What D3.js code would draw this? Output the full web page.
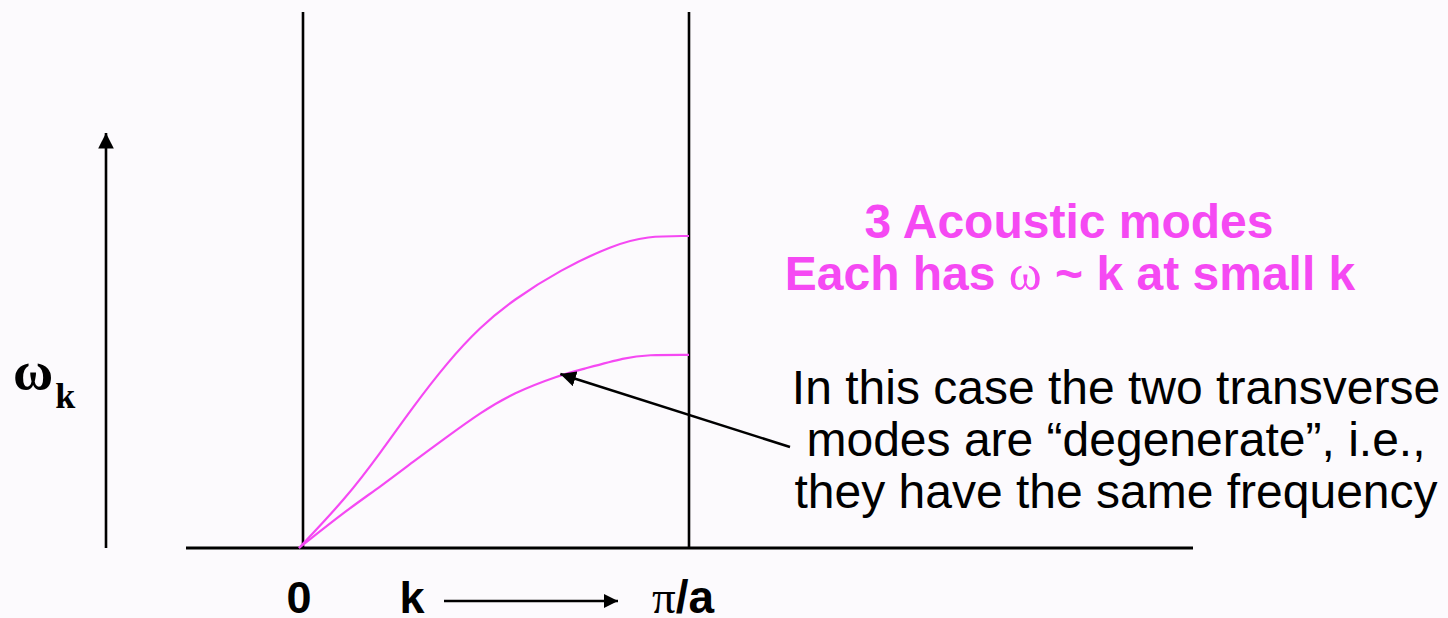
<!DOCTYPE html>
<html lang="en">
  <head>
    <meta charset="utf-8">
    <title>Acoustic modes</title>
    <style>
      body { margin: 0; background: #fcfafd; }
      svg { display: block; }
      .sans { font-family: "Liberation Sans", Arial, sans-serif; }
      .serif { font-family: "Liberation Serif", "Times New Roman", serif; }
    </style>
    <script src="https://d3js.org/d3.v7.min.js"></script>
  </head>
  <body>
    <div class="viz"></div>
    <script>
    // k in units of pi/a, omega scaled so the upper branch tops out at 1
    const kUpper = [0, 0.123, 0.208, 0.292, 0.379, 0.464, 0.549, 0.669, 0.805, 0.892, 1.0]
    const wUpper = [0, 0.163, 0.304, 0.452, 0.593, 0.708, 0.795, 0.891, 0.971, 1.0, 1.0]
    const kLower = [0, 0.123, 0.208, 0.292, 0.379, 0.464, 0.549, 0.669, 0.721, 0.841, 0.892, 1.0]
    const wLower = [0, 0.122, 0.196, 0.276, 0.356, 0.433, 0.497, 0.554, 0.571, 0.612, 0.619, 0.619]
    const pointedK = 0.67   // where the callout arrow hits the transverse branch

    const titleLines = ["3 Acoustic modes"]
    const noteLines = ["In this case the two transverse", "modes are \u201cdegenerate\u201d, i.e.,", "they have the same frequency"]

    const width = 1448, height = 618
    const magenta = "#f549f3"

    const svg = d3.select(".viz")
      .append("svg")
      .attr("width", width)
      .attr("height", height)
      .style("background-color", "#fcfafd")

    const x = d3.scaleLinear().domain([0, 1]).range([299, 689])
    const y = d3.scaleLinear().domain([0, 1]).range([548, 236])

    const defs = svg.append("defs")
    defs.append("marker")
      .attr("id", "head")
      .attr("viewBox", "0 0 10 10")
      .attr("refX", 10).attr("refY", 5)
      .attr("markerWidth", 6).attr("markerHeight", 6)
      .attr("markerUnits", "strokeWidth")
      .attr("orient", "auto")
      .append("path")
      .attr("d", "M0,0L10,5L0,10z")
      .attr("fill", "#000")

    // frame: baseline and the two vertical lines at 0 and pi/a
    svg.append("line")
      .attr("x1", 186).attr("x2", 1193)
      .attr("y1", y(0)).attr("y2", y(0))
      .attr("stroke", "#000").attr("stroke-width", 2.8)

    svg.selectAll(".vline")
      .data([0, 1])
      .join("line")
      .attr("class", "vline")
      .attr("x1", d => x(d) + (d === 0 ? 4 : 0))
      .attr("x2", d => x(d) + (d === 0 ? 4 : 0))
      .attr("y1", 12).attr("y2", y(0))
      .attr("stroke", "#000").attr("stroke-width", 2.6)

    // omega axis arrow
    svg.append("line")
      .attr("x1", 106).attr("x2", 106)
      .attr("y1", y(0)).attr("y2", 133)
      .attr("stroke", "#000").attr("stroke-width", 2.6)
      .attr("marker-end", "url(#head)")

    const line = d3.line()
      .x(d => x(d[0]))
      .y(d => y(d[1]))
      .curve(d3.curveBasis)

    const branches = [d3.zip(kUpper, wUpper), d3.zip(kLower, wLower)]

    svg.selectAll(".branch")
      .data(branches)
      .join("path")
      .attr("class", "branch")
      .attr("d", line)
      .attr("fill", "none")
      .attr("stroke", magenta)
      .attr("stroke-width", 2.2)

    // callout arrow onto the degenerate transverse branch
    const wAt = d3.scaleLinear().domain(kLower).range(wLower)
    svg.append("line")
      .attr("x1", 790).attr("y1", 447)
      .attr("x2", x(pointedK)).attr("y2", y(wAt(pointedK)) - 1)
      .attr("stroke", "#000").attr("stroke-width", 2.6)
      .attr("marker-end", "url(#head)")

    // y label
    const wl = svg.append("text")
      .attr("class", "serif")
      .attr("x", 13).attr("y", 389)
      .style("font-weight", "bold")
      .style("font-size", "55px")
    wl.append("tspan").text("\u03c9")
    wl.append("tspan").attr("dx", 2).attr("dy", 19).style("font-size", "36px").text("k")

    // x labels
    svg.append("text")
      .attr("class", "sans")
      .attr("x", x(0)).attr("y", 613)
      .attr("text-anchor", "middle")
      .style("font-weight", "bold").style("font-size", "45px")
      .text("0")

    svg.append("text")
      .attr("class", "sans")
      .attr("x", 412).attr("y", 613)
      .attr("text-anchor", "middle")
      .style("font-weight", "bold").style("font-size", "45px")
      .text("k")

    svg.append("line")
      .attr("x1", 444).attr("x2", 618)
      .attr("y1", 601).attr("y2", 601)
      .attr("stroke", "#000").attr("stroke-width", 2.4)
      .attr("marker-end", "url(#head)")

    const pl = svg.append("text")
      .attr("x", 652).attr("y", 613)
      .style("font-weight", "bold").style("font-size", "46px")
    pl.append("tspan").attr("class", "serif").style("font-weight", "normal").style("font-size", "47px").text("\u03c0")
    pl.append("tspan").attr("class", "sans").text("/a")

    // magenta title
    svg.append("text")
      .attr("class", "sans")
      .attr("x", 1069).attr("y", 238)
      .attr("text-anchor", "middle")
      .style("font-weight", "bold").style("font-size", "48px")
      .attr("fill", magenta)
      .text(titleLines[0])

    const t2 = svg.append("text")
      .attr("class", "sans")
      .attr("x", 1070).attr("y", 290)
      .attr("text-anchor", "middle")
      .style("font-weight", "bold").style("font-size", "48px")
      .attr("fill", magenta)
    t2.append("tspan").text("Each has ")
    t2.append("tspan").attr("class", "serif").style("font-weight", "normal").style("font-size", "50px").text("\u03c9")
    t2.append("tspan").text(" ~ k at small k")

    svg.selectAll(".note")
      .data(noteLines)
      .join("text")
      .attr("class", "note sans")
      .attr("x", 1116)
      .attr("y", (d, i) => 404 + i * 52)
      .attr("text-anchor", "middle")
      .style("font-size", "48px")
      .attr("fill", "#000")
      .text(d => d)
    </script>
  </body>
</html>
